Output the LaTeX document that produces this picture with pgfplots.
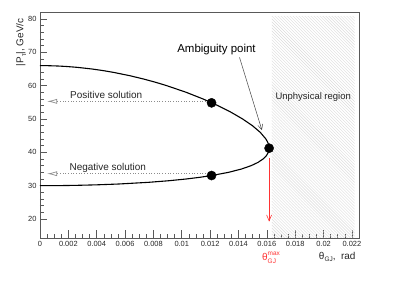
\documentclass[border=0pt]{standalone}
\usepackage{fontspec}
\setmainfont{Liberation Sans}
\usepackage{pgfplots}
\pgfplotsset{compat=1.18}
\usetikzlibrary{patterns,arrows.meta}

\begin{document}
\begin{tikzpicture}
\useasboundingbox (-40bp,-50.3bp) rectangle (359bp,237.7bp);
\begin{axis}[
  scale only axis, width=319bp, height=225.7bp,
  xmin=0, xmax=0.0225, ymin=14.4, ymax=82.1,
  clip=false,
  axis line style={black!65},
  tick pos=left, tick align=inside,
  xtick={0,0.002,0.004,0.006,0.008,0.010,0.012,0.014,0.016,0.018,0.020,0.022},
  xticklabels={0,0.002,0.004,0.006,0.008,0.01,0.012,0.014,0.016,0.018,0.02,0.022},
  ytick={20,30,40,50,60,70,80},
  minor x tick num=3, minor y tick num=4,
  major tick length=7.5bp, minor tick length=4bp,
  tick style={black!65, line width=0.6pt},
  scaled x ticks=false,
  /pgf/number format/assume math mode=true,
  ticklabel style={font=\fontsize{7.5}{9}\selectfont, text=black!85},
]
% unphysical region
\addplot[draw=none, pattern=north west lines, pattern color=black!14]
  coordinates {(0.01636,14.4) (0.0222,14.4) (0.0222,80.7) (0.01636,80.7)} -- cycle;

% dotted guide lines
\addplot[black!45, dotted, line width=0.7pt, -{Latex[open,length=10bp,width=5bp]}]
  coordinates {(0.0117,55.3) (0.0005,55.3)};
\addplot[black!45, dotted, line width=0.7pt, -{Latex[open,length=10bp,width=5bp]}]
  coordinates {(0.0117,33.6) (0.0005,33.6)};

% solution curve
\addplot[black, line width=1.1pt] coordinates {
 (0,66.02) (0.000527,66) (0.00126,65.9) (0.00189,65.75) (0.002623,65.5) (0.003676,65)
 (0.004485,64.5) (0.005172,64) (0.006328,63) (0.007305,62) (0.008168,61) (0.008944,60)
 (0.010317,58) (0.011510,56) (0.012560,54) (0.013487,52) (0.014295,50) (0.014983,48)
 (0.015536,46) (0.015934,44) (0.016065,43) (0.016141,42) (0.016157,41) (0.016103,40)
 (0.015967,39) (0.015733,38) (0.015382,37) (0.014886,36) (0.014209,35) (0.013292,34)
 (0.012043,33) (0.011247,32.5) (0.010293,32) (0.009122,31.5) (0.007622,31)
 (0.005523,30.5) (0.00395,30.25) (0.002514,30.1) (0.0015,30.035) (0,30)
};

% points
\addplot[only marks, mark=*, mark size=4.6bp, black]
  coordinates {(0.0121,54.85) (0.0121,33.05) (0.01616,41.25)};

% ambiguity arrow
\addplot[black!75, line width=0.5pt, -{Straight Barb[length=5bp,width=5bp]}]
  coordinates {(0.01407,68.5) (0.01565,46.7)};

% red arrow
\addplot[red!80, line width=0.6pt, -{Straight Barb[length=6bp,width=5bp]}]
  coordinates {(0.01616,38.2) (0.01616,19.2)};

\node[anchor=west, font=\fontsize{10}{12}\selectfont, text=black!85] at (axis cs:0.00188,57.3) {Positive solution};
\node[anchor=west, font=\fontsize{10}{12}\selectfont, text=black!85] at (axis cs:0.00184,35.4) {Negative solution};
\node[font=\fontsize{11.5}{13}\selectfont] at (axis cs:0.01245,70.7) {Ambiguity point};
\node[font=\fontsize{9.5}{11}\selectfont, text=black!85] at (axis cs:0.01927,56.7) {Unphysical region};

\node[font=\fontsize{10}{12}\selectfont, text=red!80] at (axis cs:0.01616,8.4) {θ\rlap{\raisebox{4.8pt}{\fontsize{6.5}{7}\selectfont max}}\raisebox{-2.6pt}{\fontsize{6.5}{7}\selectfont GJ}};
\node[anchor=east, font=\fontsize{10}{12}\selectfont, text=black!85] at (axis cs:0.0225,8.6) {θ\raisebox{-2.4pt}{\fontsize{6.5}{7}\selectfont GJ},\ \ rad};
\node[rotate=90, anchor=east, font=\fontsize{10}{12}\selectfont, text=black!85] at (axis cs:-0.00134,81.2) {|P\raisebox{-2.4pt}{\fontsize{6.5}{7}\selectfont τ}|, GeV/c};
\end{axis}
\end{tikzpicture}
\end{document}
